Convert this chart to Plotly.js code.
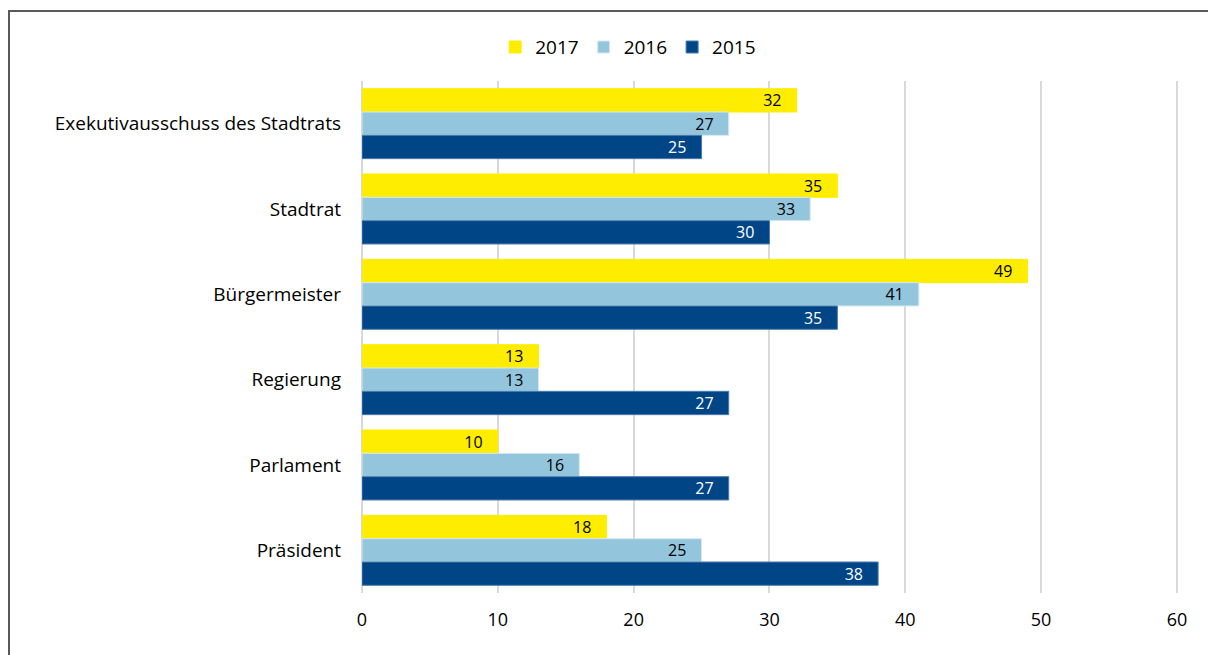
<!DOCTYPE html>
<html>
<head>
<meta charset="utf-8">
<script src="https://cdn.plot.ly/plotly-3.0.1.min.js"></script>
<style>
html,body{margin:0;padding:0;background:#fff;overflow:hidden;}
#wrap{position:relative;width:1208px;height:655px;}
#chart{position:absolute;left:0;top:0;width:1208px;height:655px;}
#frame{position:absolute;left:8px;top:10px;width:1300px;height:800px;border:2px solid #595959;pointer-events:none;box-sizing:border-box;}
</style>
</head>
<body>
<div id="wrap"><div id="chart"></div><div id="frame"></div></div>
<script>
const categories = ["Exekutivausschuss des Stadtrats", "Stadtrat", "Bürgermeister", "Regierung", "Parlament", "Präsident"];
const seriesNames = ["2017", "2016", "2015"];
const values2017 = [32, 35, 49, 13, 10, 18];
const values2016 = [27, 33, 41, 13, 16, 25];
const values2015 = [25, 30, 35, 27, 27, 38];
const xTicks = [0, 10, 20, 30, 40, 50, 60];

const colors = ["#FFED00", "#93C5DD", "#004687"];
const textColors = ["#000000", "#000000", "#FFFFFF"];
const lineColors = ["#FFED00", "#D6E9F2", "#4A7BB0"];
const allValues = [values2017, values2016, values2015];
const font = "'Open Sans', 'Noto Sans', sans-serif";

const traces = seriesNames.map((name, i) => ({
  type: "bar",
  orientation: "h",
  name: name,
  y: categories,
  x: allValues[i],
  text: allValues[i].map(v => String(v) + "\u2002\u00a0"),
  textposition: "inside",
  insidetextanchor: "end",
  textangle: 0,
  constraintext: "none",
  textfont: {family: font, size: 16, color: textColors[i]},
  marker: {color: colors[i], line: {color: lineColors[i], width: 1}},
  hoverinfo: "x+name"
}));

const layout = {
  width: 1208, height: 655,
  margin: {l: 362, r: 27, t: 81, b: 62},
  paper_bgcolor: "#fff", plot_bgcolor: "#fff",
  barmode: "group",
  bargap: 0.18,
  bargroupgap: 0,
  font: {family: font, size: 19, color: "#000"},
  showlegend: true,
  legend: {orientation: "h", x: 0.52, xanchor: "center", xref: "container", y: 0.928, yanchor: "middle", yref: "container",
           font: {family: font, size: 19, color: "#000"}, traceorder: "normal", itemwidth: 30, tracegroupgap: 0},
  xaxis: {range: [0, 60.3], tickvals: xTicks, ticktext: xTicks.map(String), showgrid: true, gridcolor: "#D9D9D9", gridwidth: 2,
          zeroline: true, zerolinecolor: "#D9D9D9", zerolinewidth: 2, showline: false, ticks: "",
          ticklabelstandoff: 14, tickfont: {family: font, size: 18, color: "#000"}, fixedrange: true},
  yaxis: {type: "category", autorange: "reversed", showgrid: false, zeroline: false, showline: false, ticks: "",
          ticklabelstandoff: 20, tickfont: {family: font, size: 19, color: "#000"}, fixedrange: true}
};

Plotly.newPlot("chart", traces, layout, {displayModeBar: false, staticPlot: true});
</script>
</body>
</html>
